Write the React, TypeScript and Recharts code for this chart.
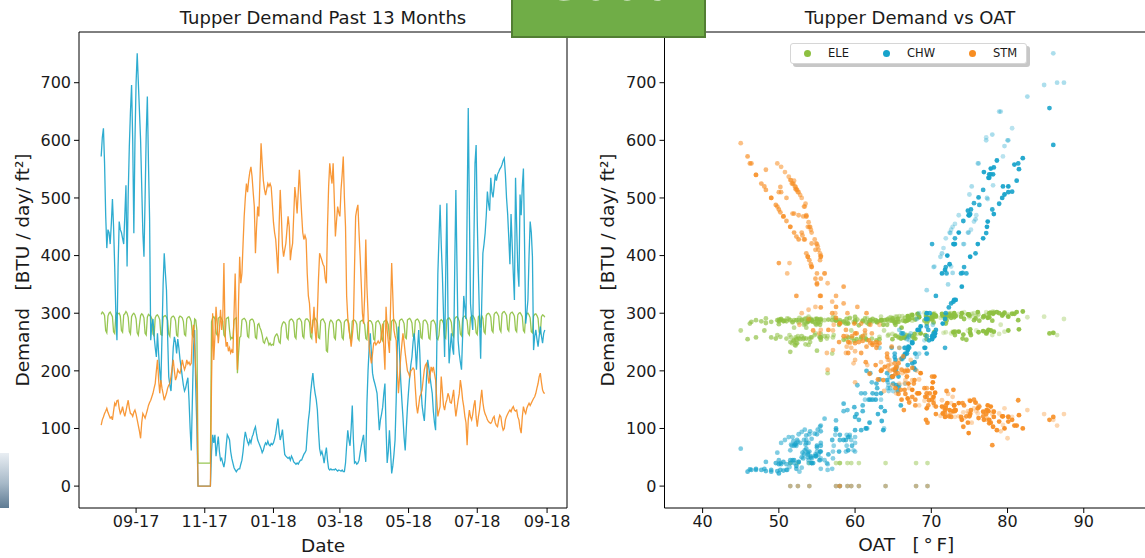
import React from "react";
import { LineChart, Line, XAxis, YAxis, ReferenceLine, ScatterChart, Scatter, Legend } from "recharts";

const FONT = "DejaVu Sans";
const TEXT = "#1a1a1a";
const START = Date.UTC(2017, 7, 1);
const DAY_MS = 86400000;

// month ticks on the time axis
const tickDates = ["2017-09-01", "2017-11-01", "2018-01-01", "2018-03-01", "2018-05-01", "2018-07-01", "2018-09-01"];
const yTicks = [0, 100, 200, 300, 400, 500, 600, 700];
const oatTicks = [40, 50, 60, 70, 80, 90];

// daily demand, 1 Aug 2017 .. 30 Aug 2018  [BTU / day / ft2]
// ELE: first row Tue-Sun, then Mon..Sun weeks
const ele = [
  298, 302, 300, 296, 270, 266,
  295, 300, 302, 298, 294, 268, 265,
  296, 301, 299, 300, 295, 270, 267,
  297, 299, 303, 300, 293, 268, 264,
  294, 298, 300, 297, 290, 266, 262,
  280, 296, 299, 297, 292, 265, 262,
  293, 298, 296, 295, 290, 264, 261,
  292, 296, 297, 294, 289, 263, 262,
  293, 295, 296, 293, 288, 264, 260,
  291, 294, 295, 293, 287, 262, 260,
  292, 295, 294, 292, 286, 263, 261,
  290, 293, 294, 291, 285, 262, 259,
  290, 288, 270, 40, 40, 40, 40,
  40, 40, 40, 40, 40, 40, 40,
  40, 285, 292, 294, 290, 265, 262,
  291, 293, 294, 290, 286, 262, 259,
  290, 292, 293, 270, 255, 258, 256,
  288, 291, 292, 196, 230, 258, 260,
  288, 290, 291, 289, 284, 260, 258,
  287, 289, 290, 288, 282, 258, 256,
  280, 282, 275, 270, 262, 250, 248,
  255, 258, 252, 245, 248, 244, 246,
  245, 258, 262, 264, 260, 250, 248,
  275, 282, 285, 284, 280, 258, 255,
  286, 289, 290, 288, 284, 259, 256,
  288, 290, 291, 289, 285, 260, 257,
  287, 290, 290, 288, 284, 259, 256,
  288, 289, 291, 288, 283, 258, 256,
  287, 289, 290, 286, 282, 235, 233,
  270, 285, 288, 286, 282, 258, 255,
  286, 288, 289, 287, 283, 258, 255,
  285, 288, 289, 287, 282, 257, 254,
  286, 288, 288, 286, 281, 256, 253,
  285, 287, 288, 285, 280, 256, 254,
  284, 287, 287, 285, 280, 255, 253,
  284, 286, 287, 284, 279, 255, 252,
  285, 287, 288, 285, 280, 256, 254,
  286, 288, 289, 286, 281, 257, 255,
  287, 289, 290, 287, 282, 258, 256,
  288, 290, 291, 288, 283, 260, 257,
  287, 289, 290, 287, 282, 258, 256,
  286, 288, 288, 285, 280, 257, 255,
  285, 287, 288, 285, 280, 256, 254,
  262, 287, 289, 287, 282, 258, 256,
  288, 291, 292, 289, 284, 262, 259,
  290, 293, 294, 291, 286, 264, 261,
  291, 294, 295, 292, 287, 265, 262,
  292, 295, 296, 293, 288, 266, 263,
  294, 296, 275, 296, 291, 268, 265,
  296, 299, 300, 298, 293, 270, 267,
  298, 301, 302, 299, 295, 272, 268,
  299, 302, 303, 300, 296, 272, 269,
  298, 301, 302, 299, 295, 271, 268,
  297, 300, 301, 298, 294, 270, 267,
  296, 299, 300, 297, 292, 268, 266,
  295, 298, 299, 296, 291, 267, 265,
  294, 297, 296, 293,
];

// CHW, one row per month
const chw = [
  572, 605, 621, 560, 470, 413, 445, 440, 420, 455, 498, 450, 381, 300, 253, 380, 459, 445, 440, 430, 420, 470, 522, 381, 506, 590, 650, 696, 600, 439, 600,
  700, 751, 700, 650, 600, 520, 440, 398, 500, 610, 676, 560, 463, 253, 280, 290, 260, 240, 224, 265, 230, 200, 178, 260, 350, 404, 370, 340, 260, 190,
  175, 165, 200, 240, 259, 250, 230, 255, 240, 220, 207, 190, 175, 165, 170, 180, 188, 150, 100, 62, 150, 240, 271, 170, 100, 0, 0, 0, 0, 0, 0,
  0, 0, 0, 0, 0, 0, 60, 89, 75, 89, 52, 70, 86, 60, 45, 48, 40, 33, 45, 70, 89, 85, 80, 60, 48, 40, 32, 28, 25, 28,
  30, 30, 38, 45, 60, 80, 94, 85, 77, 72, 80, 75, 85, 90, 98, 103, 90, 80, 75, 70, 65, 58, 62, 70, 75, 72, 78, 72, 70, 74, 72,
  75, 82, 91, 105, 117, 95, 80, 88, 98, 75, 55, 52, 50, 48, 50, 45, 52, 48, 42, 40, 38, 40, 38, 42, 45, 45, 50, 55, 58, 62, 90,
  114, 130, 161, 180, 196, 175, 161, 150, 132, 95, 65, 55, 60, 52, 40, 55, 67, 45, 30, 28, 30, 28, 29, 28, 30, 28, 26, 28,
  27, 26, 28, 25, 25, 40, 70, 97, 80, 70, 100, 140, 80, 40, 42, 38, 40, 45, 58, 70, 80, 89, 60, 42, 143, 200, 240, 265, 230, 196, 185,
  178, 170, 161, 130, 97, 115, 125, 137, 160, 178, 100, 40, 60, 97, 60, 22, 35, 55, 80, 150, 240, 277, 230, 184, 150, 120, 85, 62, 100, 137,
  165, 190, 210, 224, 250, 265, 240, 202, 240, 271, 230, 172, 140, 125, 113, 150, 190, 219, 205, 190, 175, 161, 130, 110, 97, 230, 369, 430, 488, 420, 369,
  300, 224, 370, 491, 300, 213, 240, 265, 240, 228, 380, 514, 380, 253, 230, 215, 202, 260, 330, 310, 290, 480, 656, 480, 317, 290, 271, 420, 560, 592,
  460, 369, 290, 221, 320, 404, 420, 439, 470, 511, 490, 478, 535, 510, 501, 520, 541, 530, 541, 545, 550, 553, 558, 565, 569, 541, 500, 472, 430, 385, 472,
  420, 369, 323, 535, 450, 375, 346, 506, 470, 520, 551, 420, 282, 300, 323, 400, 459, 440, 398, 236, 260, 271, 255, 242, 260, 277, 260, 248, 265, 271,
];

// STM, one row per month
const stm = [
  106, 115, 120, 126, 130, 135, 128, 123, 118, 120, 115, 130, 144, 140, 148, 149, 135, 126, 130, 138, 128, 121, 130, 140, 149, 135, 126, 125, 121, 128, 132,
  125, 115, 105, 95, 83, 110, 126, 122, 118, 125, 132, 140, 145, 149, 155, 161, 170, 178, 200, 219, 185, 161, 184, 170, 160, 149, 155, 161, 170, 175,
  178, 190, 205, 219, 200, 184, 190, 202, 198, 196, 205, 219, 210, 202, 208, 219, 212, 215, 210, 213, 265, 280, 240, 200, 165, 0, 0, 0, 0, 0, 0,
  0, 0, 0, 0, 0, 0, 180, 300, 219, 260, 311, 280, 248, 270, 306, 271, 290, 387, 265, 242, 250, 234, 240, 231, 236, 231, 300, 369, 280, 202,
  320, 398, 352, 369, 420, 468, 500, 525, 510, 531, 545, 554, 537, 510, 485, 404, 450, 485, 468, 530, 595, 560, 531, 515, 505, 515, 525, 520, 525, 519, 490,
  458, 440, 428, 400, 369, 450, 514, 470, 416, 398, 410, 421, 445, 468, 450, 392, 410, 421, 470, 519, 500, 473, 510, 549, 510, 473, 440, 428, 435, 428, 369,
  330, 317, 282, 265, 280, 311, 270, 248, 300, 360, 404, 398, 392, 385, 381, 360, 352, 450, 520, 560, 540, 525, 560, 500, 433, 460, 485, 475,
  468, 514, 540, 572, 500, 450, 330, 292, 271, 260, 242, 260, 282, 380, 468, 480, 488, 440, 398, 350, 300, 282, 330, 428, 346, 300, 242, 225, 213, 230, 248,
  250, 245, 248, 252, 248, 250, 265, 282, 240, 202, 311, 270, 250, 231, 310, 387, 330, 271, 260, 253, 200, 161, 190, 224, 245, 265, 250, 231, 215, 200,
  196, 190, 200, 202, 205, 202, 170, 140, 126, 140, 155, 160, 167, 185, 202, 210, 213, 195, 178, 190, 207, 200, 207, 195, 184, 150, 121, 130, 138, 190, 165,
  140, 132, 144, 150, 161, 155, 145, 144, 155, 167, 140, 121, 135, 149, 160, 184, 170, 150, 138, 121, 110, 71, 115, 132, 120, 115, 125, 140, 149, 120,
  103, 120, 132, 150, 167, 145, 132, 125, 121, 115, 112, 110, 109, 112, 118, 121, 110, 105, 103, 115, 123, 120, 105, 97, 100, 115, 121, 125, 129, 132, 129,
  135, 138, 132, 130, 132, 120, 115, 100, 92, 120, 138, 130, 126, 135, 140, 144, 140, 144, 148, 152, 155, 161, 170, 178, 190, 196, 180, 167, 162, 161,
];

// daily outside air temperature [F], one row per month
const oat = [
  79.4, 77.2, 80.6, 76.1, 75.9, 71.6, 75.2, 72.4, 74.3, 73.1, 77.4, 72.8, 72.6, 68.4, 69.1, 70.3, 75.6, 72.6, 74.8, 71.9, 74.2, 73.6, 78.1, 70.4, 75.0, 79.6, 78.9, 84.8, 80.1, 72.5, 77.2,
  87.4, 86.0, 86.5, 79.1, 80.0, 75.3, 74.9, 71.2, 77.3, 78.0, 82.6, 76.2, 75.8, 67.1, 70.2, 68.1, 69.4, 66.5, 68.1, 67.3, 68.4, 65.4, 66.6, 67.1, 72.2, 71.4, 72.8, 69.4, 69.4, 64.9,
  65.8, 65.0, 65.3, 65.8, 67.0, 67.5, 66.8, 66.8, 66.6, 66.2, 65.5, 64.5, 64.4, 64.4, 64.3, 64.3, 64.7, 63.4, 61.6, 59.8, 61.3, 63.2, 65.8, 64.6, 63.8, 64.0, 68.0, 69.5, 60.5, 59.0, 57.5,
  58.0, 54.0, 51.5, 59.5, 52.5, 58.0, 60.0, 57.4, 60.0, 58.9, 54.8, 57.2, 59.3, 57.1, 53.9, 55.5, 53.9, 51.4, 55.3, 58.9, 59.3, 60.0, 59.5, 58.8, 57.1, 56.3, 53.0, 51.1, 52.7, 56.4,
  57.0, 55.5, 56.4, 56.0, 55.0, 53.6, 53.0, 51.8, 52.5, 51.6, 50.8, 50.3, 51.3, 52.6, 53.4, 55.4, 54.0, 53.3, 53.6, 52.0, 45.0, 49.8, 51.5, 52.3, 52.8, 52.2, 51.9, 52.1, 51.7, 52.2, 53.5,
  53.9, 54.3, 54.7, 55.5, 56.0, 54.1, 52.4, 53.6, 55.1, 55.5, 55.2, 54.9, 54.2, 53.2, 53.8, 55.4, 54.8, 54.3, 52.6, 50.2, 51.0, 52.0, 50.3, 48.3, 50.0, 51.8, 53.0, 53.3, 53.1, 53.4, 55.0,
  57.5, 58.5, 60.8, 62.2, 62.0, 60.3, 61.3, 62.0, 59.0, 55.5, 53.6, 53.8, 54.0, 54.2, 54.3, 54.8, 55.0, 51.5, 48.1, 46.4, 47.0, 47.7, 46.2, 49.0, 52.3, 51.0, 49.8, 50.2,
  50.6, 48.3, 47.0, 45.9, 49.0, 51.5, 55.5, 57.5, 58.8, 59.6, 61.5, 61.0, 58.0, 54.3, 50.6, 50.0, 49.6, 52.0, 53.8, 55.0, 57.0, 58.0, 55.4, 52.6, 58.5, 61.5, 64.8, 66.3, 65.2, 64.2, 63.2,
  62.8, 62.9, 62.3, 61.0, 60.0, 60.5, 60.2, 59.9, 62.8, 65.0, 57.5, 54.5, 57.9, 60.8, 55.5, 50.0, 52.3, 56.5, 58.5, 61.8, 66.5, 69.4, 66.8, 64.2, 62.3, 60.0, 59.1, 59.1, 61.4, 63.4,
  65.6, 64.9, 66.9, 65.2, 67.5, 66.1, 69.1, 67.9, 71.8, 69.6, 69.4, 65.7, 66.0, 63.0, 63.5, 62.7, 65.7, 65.3, 67.7, 64.9, 65.4, 63.4, 63.9, 61.9, 63.7, 67.9, 74.6, 73.1, 76.3, 70.1, 72.0,
  71.9, 66.4, 74.1, 75.6, 69.8, 67.5, 67.1, 70.3, 69.2, 66.5, 74.3, 76.8, 71.9, 69.7, 66.6, 67.8, 65.3, 70.1, 70.6, 72.3, 69.5, 78.0, 85.5, 75.2, 72.6, 69.3, 70.6, 73.0, 81.4, 86.0,
  74.2, 73.9, 71.8, 66.1, 72.9, 75.8, 73.1, 77.2, 75.0, 80.6, 78.9, 74.8, 77.6, 80.1, 76.2, 79.4, 77.8, 81.2, 78.1, 76.9, 81.5, 78.2, 80.9, 78.6, 82.0, 77.6, 79.3, 75.1, 76.8, 72.4, 78.2,
  76.1, 71.4, 73.2, 77.5, 77.3, 71.8, 74.0, 79.6, 74.9, 80.1, 77.8, 72.9, 71.5, 69.4, 73.0, 72.1, 77.4, 73.6, 75.1, 66.9, 70.3, 68.2, 70.1, 67.0, 70.4, 68.6, 70.2, 67.5, 70.5, 68.4,
];

const series = [
  { key: "ele", name: "ELE", color: "#8dc040", values: ele },
  { key: "chw", name: "CHW", color: "#17a3cb", values: chw },
  { key: "stm", name: "STM", color: "#f78d22", values: stm },
];

const N = chw.length;
const timeData = chw.map((_, i) => ({ day: i, ele: ele[i], chw: chw[i], stm: stm[i] }));
const tickDays = tickDates.map((d) => Math.round((Date.parse(d) - START) / DAY_MS));
const tickLabel = (d: number) => {
  const idx = tickDays.indexOf(d);
  if (idx < 0) return "";
  const [y, m] = tickDates[idx].split("-");
  return `${m}-${y.slice(2)}`;
};

const Y_DOMAIN: [number, number] = [-38, 788];
const X_DOMAIN: [number, number] = [-0.05 * (N - 1), 1.05 * (N - 1)];
const OAT_DOMAIN: [number, number] = [35, 100];

const tickStyle = { fontSize: 16, fill: TEXT, fontFamily: FONT };
const labelStyle = { fontSize: 18.5, fill: TEXT, fontFamily: FONT, textAnchor: "middle" as const };
const yLabel = "Demand\u00a0\u00a0\u00a0[BTU / day/ ft\u00b2]";

function LegendBox() {
  return (
    <div
      style={{
        display: "flex",
        alignItems: "center",
        height: 19,
        paddingLeft: 13,
        paddingRight: 5,
        border: "1px solid #d6d6d6",
        borderRadius: 3,
        background: "#fff",
        boxShadow: "3px 3px 0 rgba(0,0,0,0.22)",
        fontFamily: FONT,
        fontSize: 11.5,
        color: TEXT,
      }}
    >
      {series.map((s, i) => (
        <div key={s.key} style={{ display: "flex", alignItems: "center", marginRight: i < series.length - 1 ? 34 : 0 }}>
          <span style={{ width: 7, height: 7, borderRadius: "50%", background: s.color, marginRight: 17 }} />
          <span>{s.name}</span>
        </div>
      ))}
    </div>
  );
}

export default function App() {
  return (
    <div style={{ position: "fixed", left: 0, top: 0, width: 1145, height: 558, overflow: "hidden", background: "#fff" }}>
      <div style={{ position: "absolute", left: 0, top: 9, width: 646, textAlign: "center", fontFamily: FONT, fontSize: 18, lineHeight: "18px", color: TEXT }}>
        Tupper Demand Past 13 Months
      </div>
      <div style={{ position: "absolute", left: 580, top: 9, width: 660, textAlign: "center", fontFamily: FONT, fontSize: 18, lineHeight: "18px", color: TEXT }}>
        Tupper Demand vs OAT
      </div>

      <div style={{ position: "absolute", left: 0, top: 0 }}>
        <LineChart width={580} height={558} data={timeData} margin={{ top: 32, right: 13, left: 0, bottom: 0 }}>
          <XAxis
            dataKey="day"
            type="number"
            domain={X_DOMAIN}
            allowDataOverflow
            ticks={tickDays}
            interval={0}
            tickFormatter={tickLabel}
            height={50}
            tick={tickStyle}
            tickSize={5}
            tickMargin={3}
            axisLine={{ stroke: "#000" }}
            tickLine={{ stroke: "#000" }}
            label={{ value: "Date", position: "insideBottom", offset: 6, style: labelStyle }}
          />
          <YAxis
            type="number"
            domain={Y_DOMAIN}
            allowDataOverflow
            ticks={yTicks}
            interval={0}
            width={79}
            tick={tickStyle}
            tickSize={5}
            tickMargin={3}
            axisLine={{ stroke: "#000" }}
            tickLine={{ stroke: "#000" }}
            label={{ value: yLabel, angle: -90, position: "insideLeft", offset: 22, style: labelStyle }}
          />
          <ReferenceLine y={Y_DOMAIN[1]} stroke="#000" ifOverflow="visible" />
          <ReferenceLine x={X_DOMAIN[1]} stroke="#000" ifOverflow="visible" />
          {series.map((s) => (
            <Line
              key={s.key}
              dataKey={s.key}
              type="linear"
              stroke={s.color}
              strokeWidth={1.3}
              strokeOpacity={0.9}
              dot={false}
              isAnimationActive={false}
            />
          ))}
        </LineChart>
      </div>

      <div style={{ position: "absolute", left: 580, top: 0 }}>
        <ScatterChart width={600} height={558} margin={{ top: 32, right: 20, left: 0, bottom: 0 }}>
          <XAxis
            dataKey="oat"
            type="number"
            domain={OAT_DOMAIN}
            allowDataOverflow
            ticks={oatTicks}
            interval={0}
            height={50}
            tick={tickStyle}
            tickSize={5}
            tickMargin={3}
            axisLine={{ stroke: "#000" }}
            tickLine={{ stroke: "#000" }}
            label={{ value: "OAT\u00a0\u00a0\u00a0[\u2009\u00b0\u2009F]", position: "insideBottom", offset: 7, dx: -6, style: labelStyle }}
          />
          <YAxis
            dataKey="v"
            type="number"
            domain={Y_DOMAIN}
            allowDataOverflow
            ticks={yTicks}
            interval={0}
            width={84.5}
            tick={tickStyle}
            tickSize={5}
            tickMargin={3}
            axisLine={{ stroke: "#000" }}
            tickLine={{ stroke: "#000" }}
            label={{ value: yLabel, angle: -90, position: "insideLeft", offset: 27, style: labelStyle }}
          />
          <ReferenceLine y={Y_DOMAIN[1]} stroke="#000" ifOverflow="visible" />
          {series.map((s) => (
            <Scatter
              key={s.key}
              name={s.name}
              data={s.values.map((v, i) => ({ oat: oat[i], v, a: 0.3 + (0.7 * i) / (N - 1) }))}
              fill={s.color}
              isAnimationActive={false}
              shape={(p: any) => <circle cx={p.cx} cy={p.cy} r={2.4} fill={s.color} fillOpacity={p.payload.a} />}
            />
          ))}
          <Legend
            layout="horizontal"
            verticalAlign="middle"
            align="center"
            content={() => <LegendBox />}
            wrapperStyle={{ left: 210, top: 42.5, width: 237, height: 21 }}
          />
        </ScatterChart>
      </div>

      <div
        style={{
          position: "absolute",
          left: 511,
          top: -42,
          width: 195,
          height: 80,
          boxSizing: "border-box",
          background: "#70ad47",
          border: "2px solid #527e33",
          overflow: "hidden",
        }}
      >
        <span
          style={{
            position: "absolute",
            left: 0,
            right: 0,
            top: -6,
            textAlign: "center",
            fontFamily: "Open Sans",
            fontSize: 52,
            lineHeight: "52px",
            color: "#fff",
          }}
        >
          Good
        </span>
      </div>
      <div
        style={{
          position: "absolute",
          left: 0,
          top: 453,
          width: 9,
          height: 55,
          background: "linear-gradient(to bottom, #e9eef3, #a7b9c8 55%, #5e7b93)",
        }}
      />
    </div>
  );
}
